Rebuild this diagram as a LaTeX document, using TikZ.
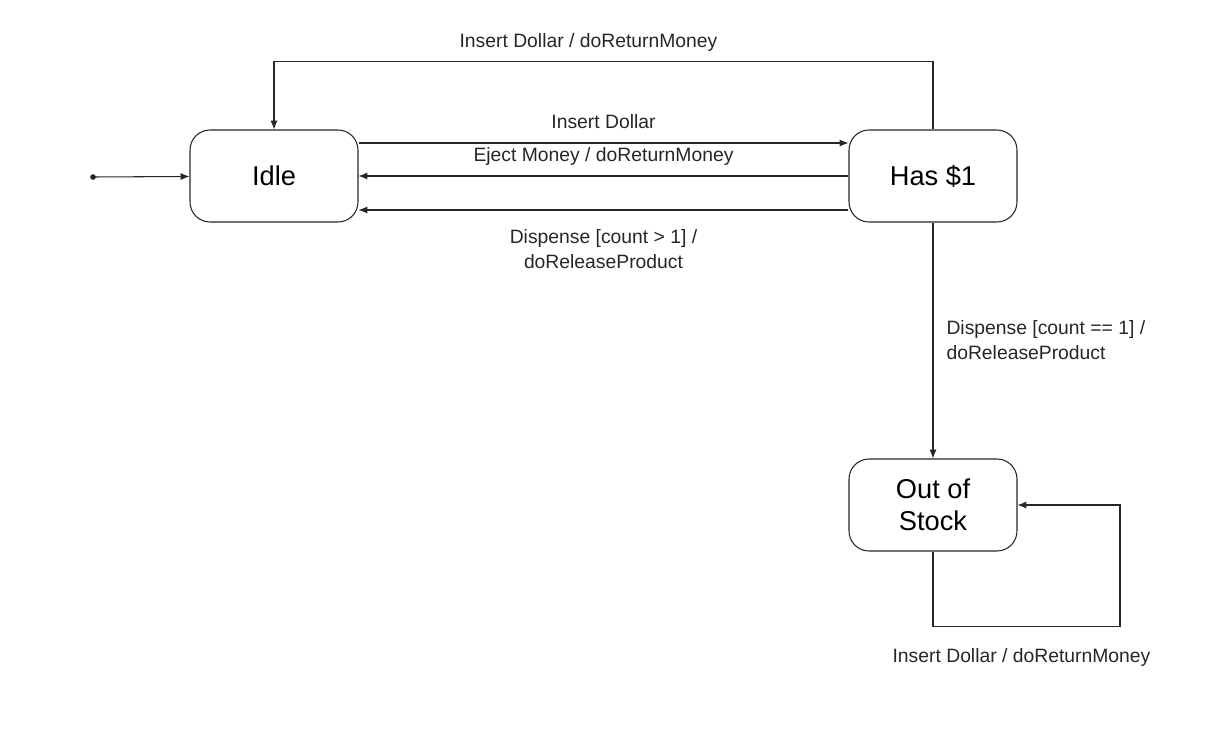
\documentclass[tikz,border=0pt]{standalone}
\usepackage{fontspec}
\setmainfont{Liberation Sans}
\usetikzlibrary{arrows.meta,positioning}
\tikzset{
    state/.style={draw, rounded corners=0.4cm, minimum width=3.36cm,
        minimum height=1.84cm, align=center, inner sep=2pt,
        font=\fontsize{15.5}{18}\selectfont},
    trans/.style={-{Latex[length=5pt,width=4pt]}},
    lbl/.style={font=\fontsize{11}{14.2}\selectfont, inner sep=0pt, text=black!85},
}

\begin{document}
\begin{tikzpicture}[x=0.02cm, y=-0.02cm, line width=0.6pt, draw=black!85]
    \useasboundingbox (0,0) rectangle (1211,744);
    % states
    \node[state] (idle) at (274,176) {Idle};
    \node[state] (has) at (933,176) {Has \$1};
    \node[state] (oos) at (933,505) {Out of\\Stock};
    \coordinate (start) at (93,177);
    % transitions
    \fill[black!85] (start) circle (1.6pt);
    \draw[trans] (start) -- (idle);
    \draw[trans] ([yshift=0.66cm]idle.east) -- ([yshift=0.66cm]has.west)
        node[lbl, midway, above=0.28cm] {Insert Dollar};
    \draw[trans] (has.west) -- (idle.east)
        node[lbl, midway, above=0.2cm] {Eject Money / doReturnMoney};
    \draw[trans] ([yshift=-0.68cm]has.west) -- ([yshift=-0.68cm]idle.east)
        node[lbl, midway, below=0.38cm, align=center] {Dispense [count > 1] /\\doReleaseProduct};
    \draw[trans] (has.north) -- ++(0,-68) -| (idle.north)
        node[lbl, pos=0.25, above=0.18cm, xshift=-0.3cm] {Insert Dollar / doReturnMoney};
    \draw[trans] (has) -- (oos)
        node[lbl, midway, right=0.26cm, align=left] {Dispense [count == 1] /\\doReleaseProduct};
    \draw[trans] (oos.south) -- ++(0,75) -- ++(187,0)
        node[lbl, midway, below=0.42cm, xshift=-0.1cm] {Insert Dollar / doReturnMoney}
        |- (oos.east);
\end{tikzpicture}
\end{document}
